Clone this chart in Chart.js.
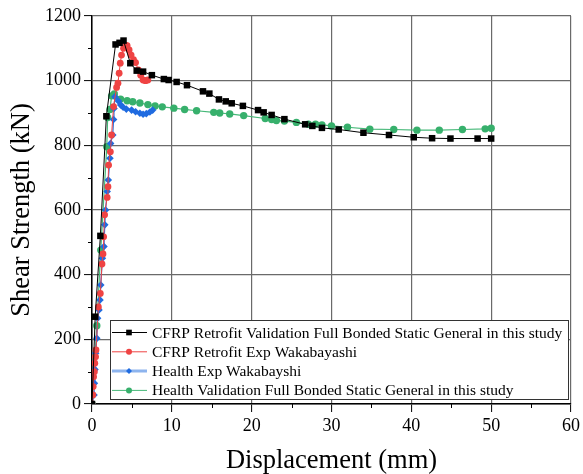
<!DOCTYPE html>
<html lang="en">
<head>
  <meta charset="UTF-8">
  <title>Shear Strength vs Displacement</title>
  <style>
    html, body { margin: 0; padding: 0; background: #fff; }
    #wrap { width: 583px; height: 474px; }
  </style>
</head>
<body>
  <div id="wrap"><canvas id="chart" width="583" height="474"></canvas></div>

  <script src="https://cdn.jsdelivr.net/npm/chart.js"></script>
  <script>
    // CFRP Retrofit Validation Full Bonded Static General in this study
    const cfrpValX = [0, 0.4, 1.05, 1.8, 2.95, 3.45, 3.95, 4.8, 5.6, 6.4, 7.5, 9.0, 9.6, 10.6, 11.9, 13.9, 14.7, 15.9, 16.75, 17.5, 18.9, 20.8, 21.5, 22.5, 24.1, 26.7, 27.6, 28.8, 30.9, 34.0, 37.2, 40.3, 42.6, 44.9, 48.3, 50.0];
    const cfrpValY = [0, 270, 520, 890, 1112, 1117, 1124, 1054, 1031, 1028, 1017, 1005, 1002, 996, 986, 967, 960, 942, 936, 930, 922, 909, 902, 894, 881, 865, 860, 854, 849, 839, 832, 825, 822, 821, 821, 821];

    // CFRP Retrofit Exp Wakabayashi
    const cfrpExpX = [0, 0.1, 0.15, 0.2, 0.3, 0.35, 0.45, 0.5, 0.8, 1.04, 1.25, 1.38, 1.46, 1.58, 1.9, 2.0, 2.08, 2.3, 2.45, 2.7, 3.08, 3.25, 3.4, 3.54, 3.7, 3.95, 4.2, 4.4, 4.65, 4.9, 5.2, 5.46, 5.8, 6.1, 6.4, 6.7, 7.0];
    const cfrpExpY = [0, 28, 54, 84, 100, 126, 146, 167, 300, 342, 433, 464, 517, 585, 639, 672, 739, 780, 832, 920, 979, 992, 1023, 1054, 1079, 1100, 1110, 1108, 1095, 1079, 1065, 1056, 1033, 1017, 1002, 1000, 1002];

    // Health Exp Wakabayshi
    const healthExpX = [0, 0.25, 0.3, 0.37, 0.46, 0.6, 0.7, 0.87, 1.0, 1.1, 1.3, 1.5, 1.6, 1.7, 1.9, 2.04, 2.25, 2.33, 2.6, 2.7, 2.75, 2.87, 3.3, 3.6, 3.9, 4.3, 4.96, 5.46, 6.0, 6.4, 6.8, 7.25, 7.6];
    const healthExpY = [0, 28, 64, 107, 157, 203, 265, 291, 322, 368, 451, 487, 554, 600, 657, 693, 760, 806, 832, 880, 914, 950, 937, 925, 918, 912, 909, 904, 899, 896, 898, 903, 909];

    // Health Validation Full Bonded Static General in this study
    const healthValX = [0, 0.6, 1.1, 1.85, 1.96, 2.25, 2.46, 2.79, 3.58, 4.4, 5.1, 6.0, 7.0, 7.9, 8.8, 10.25, 11.6, 13.1, 15.25, 16.0, 17.25, 19.0, 21.7, 22.5, 23.1, 24.1, 25.6, 27.1, 28.0, 28.8, 30.0, 32.0, 34.8, 37.8, 40.7, 43.5, 46.4, 49.25, 50.0];
    const healthValY = [0, 242, 476, 796, 886, 911, 953, 959, 943, 938, 935, 931, 926, 922, 919, 915, 911, 907, 902, 900, 897, 892, 883, 880, 877, 875, 871, 865, 865, 863, 860, 856, 850, 849, 847, 847, 849, 851, 853];

    const xTicks = [0, 10, 20, 30, 40, 50, 60];
    const yTicks = [0, 200, 400, 600, 800, 1000, 1200];

    const serif = "'Liberation Serif', 'Times New Roman', serif";

    function pairs(xs, ys) {
      return xs.map((x, i) => ({ x: x, y: ys[i] }));
    }

    // minor ticks (half steps), drawn short and outward
    const minorTicks = {
      id: 'minorTicks',
      afterDraw(chart) {
        const ctx = chart.ctx;
        const xs = chart.scales.x, ys = chart.scales.y;
        const a = chart.chartArea;
        ctx.save();
        ctx.strokeStyle = '#000';
        ctx.lineWidth = 1;
        ctx.beginPath();
        for (let i = 0; i < xTicks.length - 1; i++) {
          const px = Math.round(xs.getPixelForValue((xTicks[i] + xTicks[i + 1]) / 2)) + 0.5;
          ctx.moveTo(px, a.bottom);
          ctx.lineTo(px, a.bottom + 4);
        }
        for (let i = 0; i < yTicks.length - 1; i++) {
          const py = Math.round(ys.getPixelForValue((yTicks[i] + yTicks[i + 1]) / 2)) + 0.5;
          ctx.moveTo(a.left, py);
          ctx.lineTo(a.left - 4, py);
        }
        ctx.stroke();
        ctx.restore();
      }
    };

    // boxed legend inside the plot, bottom right
    const boxLegend = {
      id: 'boxLegend',
      afterDatasetsDraw(chart) {
        const ctx = chart.ctx;
        const a = chart.chartArea;
        const left = a.left + 18, right = a.right - 3;
        const top = a.bottom - 84, bottom = a.bottom - 5;
        ctx.save();
        ctx.fillStyle = '#fff';
        ctx.fillRect(left, top, right - left, bottom - top);
        ctx.strokeStyle = '#333';
        ctx.lineWidth = 1;
        ctx.strokeRect(left + 0.5, top + 0.5, right - left, bottom - top);
        ctx.font = '15.5px ' + serif;
        ctx.textBaseline = 'middle';
        chart.data.datasets.forEach((ds, i) => {
          const y = top + 12.5 + i * 19.3;
          ctx.strokeStyle = ds.legendLine || ds.borderColor;
          ctx.lineWidth = ds.legendLineWidth || 1;
          ctx.beginPath();
          ctx.moveTo(left + 2, y);
          ctx.lineTo(left + 37, y);
          ctx.stroke();
          ctx.fillStyle = ds.pointBackgroundColor;
          ctx.strokeStyle = ds.pointBackgroundColor;
          Chart.helpers.drawPoint(ctx, { pointStyle: ds.pointStyle, radius: ds.pointStyle === 'rect' ? 4 : 3, borderWidth: 0, rotation: 0 }, left + 19, y);
          ctx.fillStyle = '#000';
          ctx.fillText(ds.label, left + 42, y + 1);
        });
        ctx.restore();
      }
    };

    const ctx = document.getElementById('chart').getContext('2d');
    new Chart(ctx, {
      type: 'scatter',
      data: {
        datasets: [
          {
            label: 'CFRP Retrofit Validation Full Bonded Static General in this study',
            data: pairs(cfrpValX, cfrpValY),
            showLine: true,
            borderColor: '#000',
            borderWidth: 1,
            pointStyle: 'rect',
            pointRadius: 4.6,
            pointBackgroundColor: '#000',
            pointBorderWidth: 0
          },
          {
            label: 'CFRP Retrofit Exp Wakabayashi',
            data: pairs(cfrpExpX, cfrpExpY),
            showLine: true,
            borderColor: '#ee4444',
            borderWidth: 1,
            pointStyle: 'circle',
            pointRadius: 3.4,
            pointBackgroundColor: '#ef4343',
            pointBorderWidth: 0
          },
          {
            label: 'Health Exp Wakabayshi',
            data: pairs(healthExpX, healthExpY),
            showLine: true,
            borderColor: '#2c6fdc',
            borderWidth: 1.2,
            legendLine: '#8db4ee',
            legendLineWidth: 3,
            pointStyle: 'rectRot',
            pointRadius: 3.8,
            pointBackgroundColor: '#1f6be0',
            pointBorderWidth: 0
          },
          {
            label: 'Health Validation Full Bonded Static General in this study',
            data: pairs(healthValX, healthValY),
            showLine: true,
            borderColor: '#46b878',
            borderWidth: 1.2,
            pointStyle: 'circle',
            pointRadius: 3.7,
            pointBackgroundColor: '#37b06c',
            pointBorderWidth: 0
          }
        ]
      },
      options: {
        responsive: false,
        animation: false,
        layout: { padding: { top: 16, right: 11, left: 0, bottom: 0 } },
        plugins: {
          legend: { display: false },
          tooltip: { enabled: false }
        },
        scales: {
          x: {
            type: 'linear',
            min: 0,
            max: 60,
            afterBuildTicks: (s) => { s.ticks = xTicks.map(v => ({ value: v })); },
            afterFit: (s) => { s.height = 70; },
            ticks: { font: { family: serif, size: 18 }, color: '#000', padding: 3, maxRotation: 0, callback: (v) => String(v) },
            grid: { color: '#6a6a6a', lineWidth: 1.2, tickColor: '#000', tickLength: 8, tickWidth: 1 },
            border: { color: '#000', width: 1.5 },
            title: { display: true, text: 'Displacement (mm)', font: { family: serif, size: 26.5, lineHeight: 1 }, color: '#000', padding: { top: 0, bottom: 0 } }
          },
          y: {
            min: 0,
            max: 1200,
            afterBuildTicks: (s) => { s.ticks = yTicks.map(v => ({ value: v })); },
            afterFit: (s) => { s.width = 92; },
            ticks: { font: { family: serif, size: 18 }, color: '#000', padding: 3, callback: (v) => String(v) },
            grid: { color: '#6a6a6a', lineWidth: 1.2, tickColor: '#000', tickLength: 8, tickWidth: 1 },
            border: { color: '#000', width: 1.5 },
            title: { display: true, text: 'Shear Strength (kN)', font: { family: serif, size: 26.5, lineHeight: 1 }, color: '#000', padding: { top: 9, bottom: 0 } }
          }
        }
      },
      plugins: [minorTicks, boxLegend]
    });
  </script>
</body>
</html>
